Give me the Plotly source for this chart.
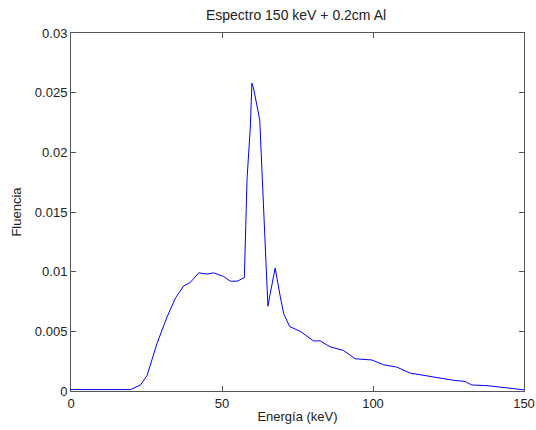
import plotly.graph_objects as go

energia = [0, 5, 10, 15, 19.7, 23, 25.2, 28.5, 31.8, 34.6, 37.3, 39.5, 42.3, 45, 47.2, 50.5, 52.8, 55, 57.4,
           58.3, 59.4, 59.9, 60.5, 62.5, 63.2, 64.3, 65.2, 66, 67.6, 69.3, 70.4, 72.4, 75.9, 80.3, 82.5,
           85.8, 90.2, 94.1, 99.6, 103.5, 107.9, 112.3, 114.5, 117.8, 122.2, 126.6, 130.5, 132.7, 137.7,
           142.1, 146.5, 150]
fluencia = [0.00012, 0.00012, 0.00012, 0.00012, 0.00012, 0.0005, 0.0013, 0.0040, 0.0062, 0.0078, 0.0088, 0.0091,
            0.0099, 0.0098, 0.0099, 0.0096, 0.0092, 0.0092, 0.0095,
            0.0178, 0.0222, 0.0258, 0.0253, 0.0227, 0.0186, 0.0121, 0.0071, 0.0082, 0.0103, 0.0079, 0.0065,
            0.0054, 0.0050, 0.0042, 0.0042, 0.0037, 0.0034, 0.0027, 0.0026, 0.0022, 0.0020, 0.0015, 0.0014,
            0.0013, 0.0011, 0.0009, 0.0008, 0.0005, 0.00045, 0.0003, 0.0002, 0.0001]

x_ticks = [0, 50, 100, 150]
y_ticks = [0, 0.005, 0.01, 0.015, 0.02, 0.025, 0.03]
y_labels = ["0", "0.005", "0.01", "0.015", "0.02", "0.025", "0.03"]

fig = go.Figure(go.Scatter(x=energia, y=fluencia, mode="lines",
                           line=dict(color="#0000ff", width=1)))

font = dict(family="Liberation Sans, Arial, sans-serif", size=13, color="#222222")
axis_common = dict(showline=True, linecolor="#555555", linewidth=1, mirror="ticks",
                   ticks="inside", ticklen=5, tickcolor="#555555", showgrid=False,
                   zeroline=False, tickfont=font, automargin=False,
                   ticklabeloverflow="allow")

W, H = 536, 430
fig.update_layout(
    width=W, height=H,
    margin=dict(l=70.5, r=12, t=33, b=39, autoexpand=False),
    paper_bgcolor="white", plot_bgcolor="white",
    showlegend=False,
    title=dict(text="Espectro 150 keV + 0.2cm Al", x=296 / W, xanchor="center",
               y=1 - 15 / H, yanchor="middle",
               font=dict(family="Liberation Sans, Arial, sans-serif", size=14, color="#222222")),
    xaxis=dict(range=[0, 150], tickvals=x_ticks, ticktext=[str(v) for v in x_ticks],
               title=dict(text="Energía (keV)", font=font, standoff=2), **axis_common),
    yaxis=dict(range=[0, 0.03], tickvals=y_ticks, ticktext=y_labels,
               title=dict(text="Fluencia", font=font, standoff=10), **axis_common),
)

fig.write_html("out.html", config={"displayModeBar": False},
               post_script="document.body.style.margin='0';document.body.style.overflow='hidden';")
